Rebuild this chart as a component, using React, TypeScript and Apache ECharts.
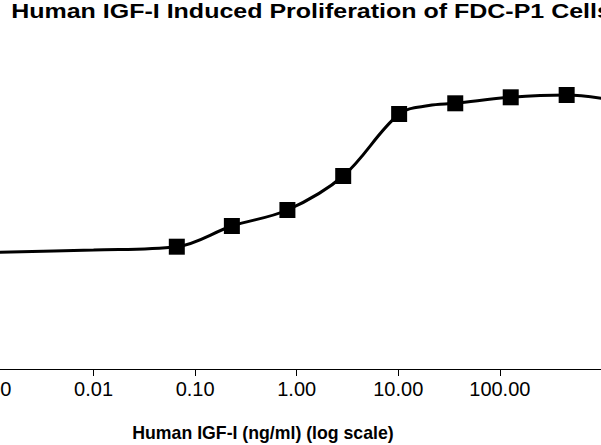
import { useEffect, useRef } from "react";
import * as echarts from "echarts";

// 浓度 (ng/ml) 与响应值
const doses = [0.066, 0.23, 0.81, 2.87, 10.2, 36.4, 128, 455];
const responses = [1.223, 1.43, 1.59, 1.93, 2.55, 2.657, 2.717, 2.74];

// 拟合曲线（从图上读出的点）
const fitX = [0.001, 0.01, 0.066, 0.23, 0.81, 2.87, 10.2, 20, 36.4, 128, 455, 1000];
const fitY = [1.166, 1.19, 1.223, 1.43, 1.59, 1.93, 2.55, 2.635, 2.657, 2.717, 2.74, 2.707];

const titleText = "Human IGF-I Induced Proliferation of FDC-P1 Cells";
const axisTitle = "Human IGF-I (ng/ml) (log scale)";

const FONT = "'Liberation Sans', Arial, sans-serif";

export default function App() {
  const chartRef = useRef<HTMLDivElement>(null);

  useEffect(() => {
    if (!chartRef.current) return;
    const chart = echarts.init(chartRef.current, undefined, { renderer: "svg" });

    chart.setOption({
      animation: false,
      backgroundColor: "#fff",
      grid: { left: 40, right: 70.6, top: 69, bottom: 76 },
      xAxis: {
        type: "log",
        logBase: 10,
        min: 0.001,
        max: 1000,
        axisLine: { lineStyle: { color: "#000", width: 1 } },
        axisTick: { inside: false, length: 7, lineStyle: { color: "#000" } },
        splitLine: { show: false },
        minorTick: { show: false },
        axisLabel: {
          margin: 10,
          fontFamily: FONT,
          fontSize: 20,
          color: "#000",
          showMaxLabel: false,
          formatter: (v: number) => v.toFixed(2),
        },
      },
      yAxis: {
        type: "value",
        min: 0,
        max: 3,
        show: false,
      },
      graphic: [
        {
          // 标题（原图字体横向拉宽）
          type: "text",
          x: 59.2,
          y: 11.7,
          scaleX: 1.25,
          style: {
            text: titleText,
            fontFamily: FONT,
            fontSize: 20,
            fontWeight: "bold",
            fill: "#000",
            textAlign: "left",
            textVerticalAlign: "middle",
          },
        },
        {
          type: "text",
          x: 311,
          y: 433,
          style: {
            text: axisTitle,
            fontFamily: FONT,
            fontSize: 17.7,
            fontWeight: "bold",
            fill: "#000",
            textAlign: "center",
            textVerticalAlign: "middle",
          },
        },
      ],
      series: [
        {
          type: "line",
          data: fitX.map((x, i) => [x, fitY[i]]),
          smooth: 0.35,
          showSymbol: false,
          lineStyle: { color: "#000", width: 3 },
          z: 2,
        },
        {
          type: "scatter",
          data: doses.map((x, i) => [x, responses[i]]),
          symbol: "rect",
          symbolSize: 16,
          itemStyle: { color: "#000", opacity: 1 },
          z: 3,
        },
      ],
    });

    return () => chart.dispose();
  }, []);

  return (
    <div
      style={{
        position: "fixed",
        left: 0,
        top: 0,
        width: 601,
        height: 445,
        overflow: "hidden",
        background: "#fff",
      }}
    >
      <div
        ref={chartRef}
        style={{ position: "absolute", left: -48, top: 0, width: 720, height: 445 }}
      />
    </div>
  );
}
